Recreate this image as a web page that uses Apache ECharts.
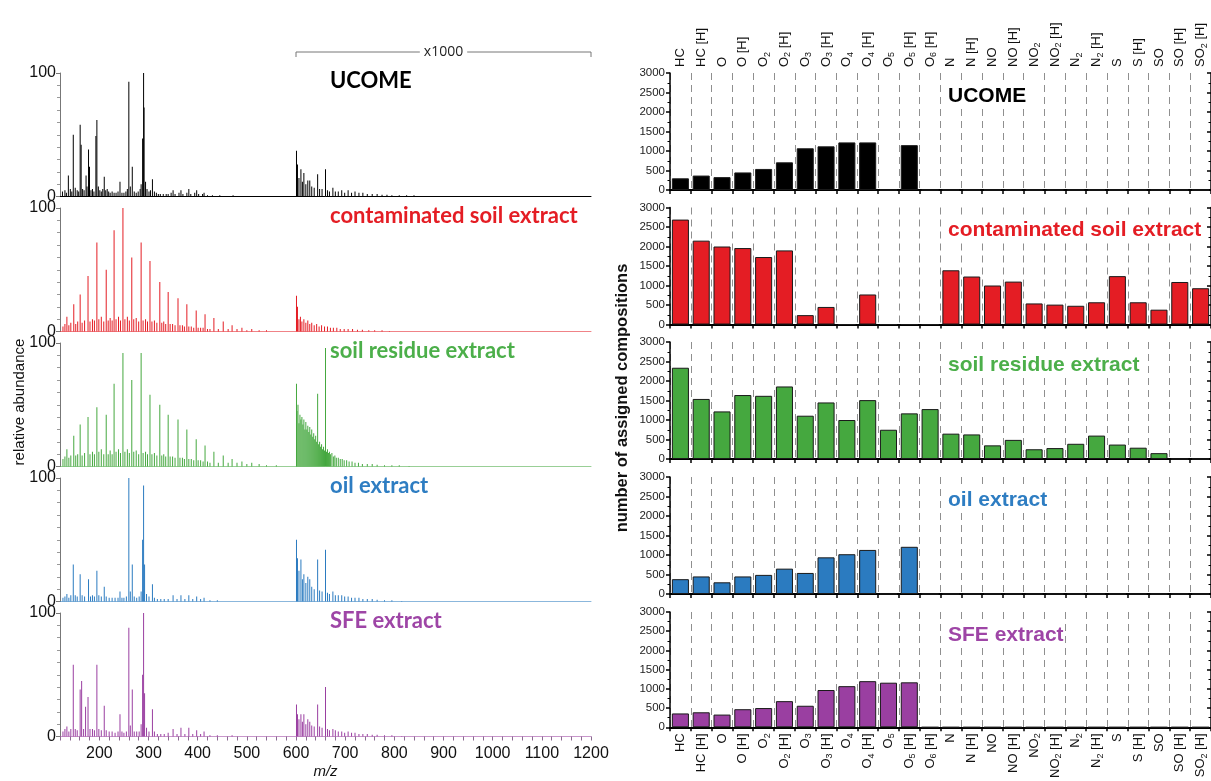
<!DOCTYPE html>
<html>
<head>
<meta charset="utf-8">
<script src="https://cdn.jsdelivr.net/npm/echarts@6/dist/echarts.min.js"></script>
<style>
html,body{margin:0;padding:0;background:#fff;}
#chart{width:1211px;height:781px;}
</style>
</head>
<body>
<div id="chart"></div>
<script>
// ---- compound classes (bar categories) ----
const classes = ['HC','HC [H]','O','O [H]','O2','O2 [H]','O3','O3 [H]','O4','O4 [H]','O5','O5 [H]','O6 [H]',
  'N','N [H]','NO','NO [H]','NO2','NO2 [H]','N2','N2 [H]','S','S [H]','SO','SO [H]','SO2 [H]'];

const sampleNames = ['UCOME','contaminated soil extract','soil residue extract','oil extract','SFE extract'];
const sampleColors = ['#000000','#E41D24','#45A83F','#2B7BC0','#9A3FA1'];
const textColors = ['#000000','#E41D24','#4CAF4A','#2E7DC2','#9E45A6'];

// number of assigned compositions per class
const countsUCOME = [300,370,330,450,540,710,1070,1120,1220,1220,0,1150,0, 0,0,0,0,0,0,0,0,0,0,0,0,0];
const countsSoil  = [2690,2150,2000,1960,1730,1900,240,450,0,770,0,0,0, 1390,1230,1000,1100,540,510,480,570,1240,570,380,1090,930];
const countsResid = [2340,1540,1220,1640,1620,1860,1110,1450,1000,1510,750,1170,1280, 650,630,350,490,250,280,390,600,370,290,150,0,0];
const countsOil   = [380,450,300,450,490,650,540,940,1020,1130,0,1210,0, 0,0,0,0,0,0,0,0,0,0,0,0,0];
const countsSFE   = [360,390,330,470,500,680,560,970,1070,1200,1160,1170,0, 0,0,0,0,0,0,0,0,0,0,0,0,0];

// ---- mass spectra: [m/z, relative abundance]; above m/z 600 intensities are magnified x1000 ----
const specUCOME = [
  [125,4],[130,5],[133,3],[137,17],[141,6],[144,4],[147,50],[151,7],[155,5],[158,4],[161,58],[163,42],[166,6],[169,5],
  [173,17],[175,8],[178,38],[180,24],[183,5],[186,6],[189,4],[193,49],[195,62],[198,8],[201,5],[204,4],[207,6],[210,16],
  [213,5],[216,6],[219,4],[222,3],[226,4],[230,3],[234,3],[238,4],[242,12],[246,3],[250,3],[254,4],[257,6],[260,93],
  [263,8],[267,24],[271,4],[275,3],[279,4],[283,6],[285,10],[288,47],[290,100],[291,72],[294,12],[297,6],[301,4],
  [304,5],[308,14],[312,4],[316,3],[320,2],[324,2],[330,2],[336,2],[340,2],[346,3],[350,5],[354,2],[362,3],[366,5],
  [370,2],[378,3],[382,6],[386,2],[394,3],[398,5],[402,2],[410,2],[413,3],[420,1],[430,1],[445,1],[472,1],
  [601,37],[603,26],[606,15],[610,22],[613,12],[616,19],[620,10],[624,13],[628,13],[632,8],[637,7],[644,18],[648,6],
  [653,6],[660,22],[664,5],[668,4],[675,7],[680,4],[686,4],[693,5],[699,3],[706,5],[713,3],[720,4],[728,3],[736,3],
  [745,2],[755,2],[765,2],[775,1.5],[785,1.5],[795,1],[810,1],[825,1],[840,1],[860,0.5]
];
const specSoil = [
  [126,4],[130,6],[134,12],[138,5],[142,7],[148,22],[152,6],[156,8],[161,30],[165,7],[170,9],[177,45],[181,8],[186,10],
  [190,9],[195,72],[199,10],[204,12],[209,8],[214,50],[218,9],[222,11],[226,9],[230,82],[234,10],[239,12],[243,9],
  [248,100],[252,10],[257,12],[261,9],[266,60],[270,10],[275,11],[280,8],[285,72],[289,9],[294,10],[298,8],[303,57],
  [307,8],[312,9],[317,7],[323,40],[327,7],[331,8],[335,6],[340,32],[344,6],[349,6],[354,5],[360,27],[364,5],[369,5],
  [373,4],[378,22],[382,4],[387,4],[392,3],[397,17],[401,3],[406,3],[411,3],[415,14],[420,2],[425,2],[433,11],[442,2],
  [452,8],[462,2],[470,5],[480,2],[490,3],[500,1],[510,2],[525,1],[540,1],
  [601,29],[603,20],[606,10],[609,12],[612,8],[616,10],[620,7],[624,9],[628,6],[632,7],[637,5],[642,6],[647,4],[652,5],
  [658,4],[664,4],[670,3],[676,3],[683,3],[690,2],[698,2],[706,2],[715,2],[725,1.5],[735,1.5],[748,1],[760,1],[775,1],[790,0.5]
];
const specResid = [
  [126,6],[130,8],[134,14],[138,7],[142,9],[148,25],[152,9],[156,10],[161,34],[165,9],[170,11],[177,40],[181,10],[186,12],
  [190,10],[195,48],[199,12],[204,14],[209,10],[214,42],[218,10],[222,13],[226,10],[230,67],[234,12],[239,14],[243,11],
  [248,92],[252,12],[257,14],[261,11],[266,70],[270,12],[275,13],[280,10],[285,92],[289,11],[294,12],[298,10],[303,58],
  [307,10],[312,11],[317,9],[323,50],[327,9],[331,10],[335,8],[340,42],[344,8],[349,8],[354,7],[360,38],[364,7],[369,7],
  [373,6],[378,30],[382,6],[387,6],[392,5],[397,22],[401,5],[406,5],[411,4],[415,17],[420,4],[425,3],[433,12],[442,3],
  [452,9],[462,3],[470,6],[480,3],[490,4],[500,2],[510,3],[525,2],[540,1],[560,1],
  [601,67],[602,45],[604,50],[606,35],[608,42],[610,38],[612,40],[614,34],[616,38],[618,30],[620,36],[622,30],[624,33],
  [626,28],[628,32],[630,26],[632,30],[634,24],[636,27],[638,22],[640,25],[642,20],[644,59],[646,18],[648,20],[650,16],
  [652,18],[654,14],[656,16],[658,13],[660,96],[662,12],[664,14],[666,11],[668,12],[670,10],[673,11],[676,8],[679,9],
  [682,7],[686,7],[690,6],[694,6],[698,5],[703,5],[708,4],[714,4],[720,3],[727,3],[735,2],[745,2],[755,2],[765,1.5],
  [780,1],[795,1],[810,1],[830,0.5]
];
const specOil = [
  [126,3],[130,4],[134,6],[138,3],[142,5],[147,30],[151,5],[155,4],[161,22],[165,5],[170,4],[178,18],[182,4],[186,5],
  [190,4],[195,25],[199,5],[204,4],[210,12],[214,4],[220,3],[226,3],[232,3],[238,3],[242,8],[246,3],[250,3],[255,4],
  [260,100],[263,8],[267,30],[271,4],[276,3],[281,4],[285,8],[288,50],[290,94],[292,30],[296,6],[301,4],[308,14],
  [312,3],[318,2],[325,2],[332,2],[340,2],[350,5],[358,2],[366,5],[374,2],[382,5],[390,2],[398,4],[406,2],[413,3],
  [425,1],[440,1],
  [601,50],[603,35],[606,25],[610,34],[613,18],[616,22],[620,15],[624,20],[628,18],[632,12],[637,10],[644,34],[648,9],
  [653,8],[660,42],[664,7],[668,6],[675,8],[680,5],[686,5],[693,5],[699,4],[706,4],[713,3],[720,3],[728,3],[736,2],
  [745,2],[755,2],[765,1.5],[780,1],[795,1],[815,0.5]
];
const specSFE = [
  [126,4],[130,6],[134,8],[138,4],[142,6],[147,58],[151,6],[155,5],[161,38],[164,45],[168,6],[172,24],[177,32],[181,6],
  [186,6],[190,5],[195,58],[199,6],[204,5],[210,25],[214,5],[220,4],[226,4],[232,3],[238,4],[242,18],[246,4],[250,3],
  [255,4],[260,88],[263,9],[267,38],[271,4],[276,4],[281,4],[285,10],[288,50],[290,100],[292,35],[296,7],[301,4],
  [308,22],[312,4],[318,2],[325,2],[332,2],[340,3],[350,6],[358,2],[366,7],[374,2],[382,7],[390,2],[398,5],[406,2],
  [413,4],[425,1],[440,1],[470,1],
  [601,26],[603,18],[606,14],[610,18],[613,12],[616,18],[620,10],[624,14],[628,12],[632,9],[637,8],[644,26],[648,8],
  [653,7],[660,40],[664,6],[668,5],[675,6],[680,5],[686,4],[693,4],[699,3],[706,4],[713,3],[720,3],[728,2],[736,2],
  [745,2],[755,1.5],[765,1.5],[780,1],[795,1],[815,0.5]
];

const counts = [countsUCOME, countsSoil, countsResid, countsOil, countsSFE];
const spectra = [specUCOME, specSoil, specResid, specOil, specSFE];

// mass axis
const mzMin = 120, mzMax = 1200, mzStep = 20;
const scaleStart = 600;   // start of magnified range
const scaleLabel = 'x1000';

// ---- layout ----
const barTops = [73, 207.5, 342, 477, 612];
const barLeft = 670, barWidth = 542, barHeight = 117;
const specTops = [73, 208, 343, 478, 613];
const specLeft = 60, specWidth = 531, specHeight = 123.5;

const chart = echarts.init(document.getElementById('chart'), null, {renderer: 'canvas'});

const option = {
  animation: false,
  backgroundColor: '#ffffff',
  grid: [], xAxis: [], yAxis: [], series: [], graphic: []
};

const dash = [7, 5];
const axisFont = '"Liberation Sans", Arial, sans-serif';

// class label with chemical subscripts (digit after an element symbol)
function classLabel(v) {
  return v.split(/(\d)/).filter(s => s.length).map(s => /^\d$/.test(s) ? '{s|' + s + '}' : '{b|' + s + '}').join('');
}
const classRich = {
  b: {fontSize: 13, color: '#111', fontFamily: axisFont, lineHeight: 16, verticalAlign: 'middle'},
  s: {fontSize: 9, color: '#111', fontFamily: axisFont, lineHeight: 16, verticalAlign: 'bottom', padding: [5, 0, 0, 0]}
};

// right-hand bar panels
for (let i = 0; i < 5; i++) {
  option.grid.push({left: barLeft, top: barTops[i], width: barWidth, height: barHeight});
  const g = option.grid.length - 1;
  const xb = option.xAxis.length;
  option.xAxis.push({
    type: 'category', gridIndex: g, data: classes, position: 'bottom',
    axisLine: {lineStyle: {color: '#000', width: 2}},
    axisTick: {show: true, inside: false, length: 4, interval: 0, lineStyle: {color: '#000', width: 1.5}},
    axisLabel: {show: i === 4, rotate: 90, interval: 0, margin: 6, formatter: classLabel, rich: classRich},
    splitLine: {show: true, interval: 0, lineStyle: {color: '#8f8f8f', type: dash, width: 1}}
  });
  option.xAxis.push({
    type: 'category', gridIndex: g, data: classes, position: 'top',
    axisLine: {lineStyle: {color: '#000', width: 2}},
    axisTick: {show: true, inside: true, length: 4, interval: 0, lineStyle: {color: '#000', width: 1.5}},
    axisLabel: {show: i === 0, rotate: 90, interval: 0, margin: 6, formatter: classLabel, rich: classRich},
    splitLine: {show: false}
  });
  const yl = option.yAxis.length;
  option.yAxis.push({
    type: 'value', gridIndex: g, min: 0, max: 3000, interval: 500, position: 'left',
    axisLine: {show: true, lineStyle: {color: '#000', width: 1.5}},
    axisTick: {show: true, inside: false, length: 4, lineStyle: {color: '#000', width: 1.5}},
    minorTick: {show: true, splitNumber: 2, length: 2.5, lineStyle: {color: '#000', width: 1}},
    axisLabel: {fontSize: 11.5, color: '#222', fontFamily: axisFont, margin: 5, formatter: v => String(v)},
    splitLine: {show: false}
  });
  option.yAxis.push({
    type: 'value', gridIndex: g, min: 0, max: 3000, interval: 500, position: 'right',
    axisLine: {show: true, lineStyle: {color: '#000', width: 1.5}},
    axisTick: {show: true, inside: true, length: 4, lineStyle: {color: '#000', width: 1.5}},
    minorTick: {show: true, splitNumber: 2, length: 2.5, lineStyle: {color: '#000', width: 1}},
    axisLabel: {show: false}, splitLine: {show: false}
  });
  option.series.push({
    type: 'bar', xAxisIndex: xb, yAxisIndex: yl, data: counts[i],
    barCategoryGap: '18%',
    itemStyle: {color: sampleColors[i], borderColor: '#1a1a1a', borderWidth: 1}
  });
  option.graphic.push({
    type: 'text', x: 947, y: barTops[i] + 23, z: 10,
    style: {text: sampleNames[i], fill: textColors[i], font: 'bold 21px "Liberation Sans", Arial, sans-serif',
      textVerticalAlign: 'middle', backgroundColor: '#ffffff', padding: [1, 1]}
  });
}

// left-hand mass spectra
for (let i = 0; i < 5; i++) {
  option.grid.push({left: specLeft, top: specTops[i], width: specWidth, height: specHeight});
  const g = option.grid.length - 1;
  const last = i === 4;
  const xi = option.xAxis.length;
  option.xAxis.push({
    type: 'value', gridIndex: g, min: mzMin, max: mzMax, interval: mzStep,
    axisLine: {show: true, onZero: false, lineStyle: {color: i === 0 ? '#000' : sampleColors[i], width: 1, opacity: i === 0 ? 1 : 0.55}},
    axisTick: {show: last, length: 4, lineStyle: {color: '#8a6a90', width: 1}},
    axisLabel: {
      show: last, interval: 0, fontSize: 16, color: '#111', fontFamily: axisFont, margin: 9,
      formatter: v => (v % 100 === 0 ? String(v) : '')
    },
    splitLine: {show: false},
    name: last ? 'm/z' : '', nameLocation: 'middle', nameGap: 28,
    nameTextStyle: {fontSize: 15, fontStyle: 'italic', color: '#111', fontFamily: axisFont}
  });
  const yi = option.yAxis.length;
  option.yAxis.push({
    type: 'value', gridIndex: g, min: 0, max: 100, interval: 100,
    axisLine: {show: true, lineStyle: {color: '#777', width: 1}},
    axisTick: {show: true, length: 4, lineStyle: {color: '#777'}},
    minorTick: {show: true, splitNumber: 10, length: 3, lineStyle: {color: '#999'}},
    axisLabel: {fontSize: 16, color: '#111', fontFamily: axisFont, margin: 4},
    splitLine: {show: false}
  });
  option.series.push({
    type: 'bar', xAxisIndex: xi, yAxisIndex: yi, data: spectra[i],
    barWidth: 1, barGap: '-100%',
    itemStyle: {color: sampleColors[i]}
  });
  option.graphic.push({
    type: 'text', x: 330, y: specTops[i] + 8,
    style: {text: sampleNames[i], fill: textColors[i], font: 'bold 22px Lato, "Open Sans", sans-serif',
      textVerticalAlign: 'middle'}
  });
}

// axis titles
option.graphic.push({
  type: 'text', x: 622, y: 398, rotation: Math.PI / 2,
  style: {text: 'number of assigned compositions', fill: '#111', font: 'bold 16.5px "Liberation Sans", Arial, sans-serif',
    textAlign: 'center', textVerticalAlign: 'middle'}
});
option.graphic.push({
  type: 'text', x: 20, y: 402, rotation: Math.PI / 2,
  style: {text: 'relative abundance', fill: '#111', font: '15px "Liberation Sans", Arial, sans-serif',
    textAlign: 'center', textVerticalAlign: 'middle'}
});

chart.setOption(option);

// bracket marking the magnified m/z range of the first spectrum
const specGrid0 = 5;
const pA = chart.convertToPixel({gridIndex: specGrid0}, [scaleStart, 100]);
const pB = chart.convertToPixel({gridIndex: specGrid0}, [mzMax, 100]);
const pM = chart.convertToPixel({gridIndex: specGrid0}, [(scaleStart + mzMax) / 2, 100]);
const by = pA[1] - 21;
const extra = [
  {type: 'polyline', shape: {points: [[pA[0], by + 5], [pA[0], by], [pB[0], by], [pB[0], by + 5]]},
    style: {stroke: '#777', lineWidth: 1, fill: null}},
  {type: 'text', x: pM[0], y: by, style: {text: scaleLabel, fill: '#222', font: '14px "Open Sans", sans-serif',
    textAlign: 'center', textVerticalAlign: 'middle', backgroundColor: '#fff', padding: [0, 4]}}
];
chart.setOption({graphic: option.graphic.concat(extra)});
</script>
</body>
</html>
